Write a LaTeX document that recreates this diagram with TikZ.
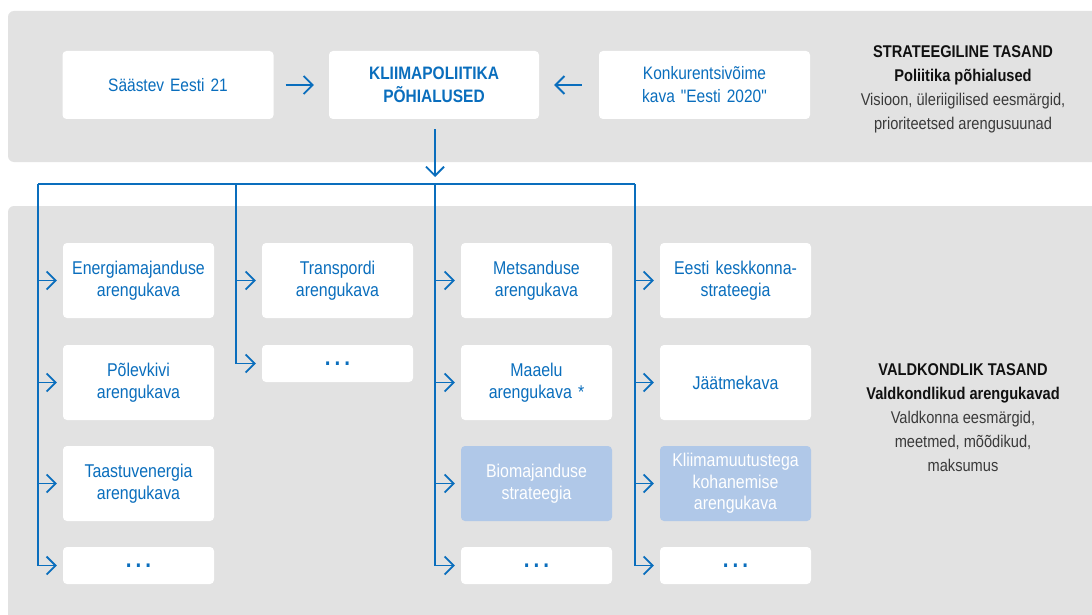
\documentclass[tikz,border=0pt]{standalone}
\usepackage{fontspec}
\setmainfont[FakeStretch=0.86, Ligatures=TeXOff]{Liberation Sans}
\usetikzlibrary{arrows.meta,calc}
\definecolor{bl}{HTML}{0A6EBD}
\definecolor{lb}{HTML}{B0C8E8}
\definecolor{pg}{HTML}{E2E2E2}
\definecolor{dk}{HTML}{111111}
\definecolor{dg}{HTML}{3A3A3A}
\begin{document}
\begin{tikzpicture}[x=1pt,y=-1pt,
  panel/.style={fill=pg, rounded corners=6pt},
  box/.style={rectangle, rounded corners=4pt, fill=white, minimum width=151pt, minimum height=75pt,
    inner sep=0pt, align=center, text width=149pt, text=bl, font=\fontsize{18.5}{21.5}\selectfont},
  topbox/.style={box, minimum width=211pt, minimum height=68pt, text width=200pt, font=\fontsize{18}{23}\selectfont},
  lbox/.style={box, fill=lb, text=white},
  dotbox/.style={box, minimum height=37pt, font=\fontsize{24}{24}\selectfont\bfseries},
  rt/.style={align=center, text=dk, font=\fontsize{17}{24}\selectfont},
  link/.style={draw=bl, line width=1.8pt},
  arr/.style={link, -{Straight Barb[length=9pt,width=18pt,line width=1.8pt]}}
]
\clip (0,0) rectangle (1092,615);
\useasboundingbox (0,0) rectangle (1092,615);
\fill[white] (0,0) rectangle (1092,615);
% panels
\fill[panel] (8,11) rectangle (1110,162);
\fill[panel] (8,206) rectangle (1110,640);

% top level
\node[topbox] (s21) at (168,85) {Säästev Eesti 21};
\node[topbox, minimum width=210pt] (kp) at (434,85) {\bfseries KLIIMAPOLIITIKA\\ \bfseries PÕHIALUSED};
\node[topbox] (kk) at (704.5,85) {Konkurentsivõime\\ kava "Eesti 2020"};
\node[rt] (st) at (963,89.5) {\bfseries STRATEEGILINE TASAND\\ \bfseries Poliitika põhialused\\ \color{dg}Visioon, üleriigilised eesmärgid,\\ \color{dg}prioriteetsed arengusuunad};

\draw[arr] ([xshift=12pt]s21.east) -- ([xshift=-15pt]kp.west);
\draw[arr] ([xshift=-17pt]kk.west) -- ([xshift=15pt]kp.east);

% branch coordinates
\coordinate (c1) at (38,184);
\coordinate (c2) at (236,184);
\coordinate (c3) at (435,184);
\coordinate (c4) at (635,184);
\draw[arr] (c3 |- kp.south) ++(0,10) -- ([yshift=7pt]c3);
\draw[link] (c1) -- (c4);

% column 1
\node[box] (a1) at (138.5,280.5) {Energiamajanduse\\ arengukava};
\node[box] (a2) at (138.5,382.5) {Põlevkivi\\ arengukava};
\node[box] (a3) at (138.5,483.5) {Taastuvenergia\\ arengukava};
\node[dotbox] (a4) at (138.5,565.5) {.\kern4pt.\kern4pt.};
% column 2
\node[box] (b1) at (337.5,280.5) {Transpordi\\ arengukava};
\node[dotbox] (b2) at (337.5,363.5) {.\kern4pt.\kern4pt.};
% column 3
\node[box] (m1) at (536.5,280.5) {Metsanduse\\ arengukava};
\node[box] (m2) at (536.5,382.5) {Maaelu\\ arengukava *};
\node[lbox] (m3) at (536.5,483.5) {Biomajanduse\\ strateegia};
\node[dotbox] (m4) at (536.5,565.5) {.\kern4pt.\kern4pt.};
% column 4
\node[box] (k1) at (735.5,280.5) {Eesti keskkonna-\\ strateegia};
\node[box] (k2) at (735.5,382.5) {Jäätmekava};
\node[lbox] (k3) at (735.5,483.5) {Kliimamuutustega\\ kohanemise\\ arengukava};
\node[dotbox] (k4) at (735.5,565.5) {.\kern4pt.\kern4pt.};

\node[rt] (vt) at (963,417.5) {\bfseries VALDKONDLIK TASAND\\ \bfseries Valdkondlikud arengukavad\\ \color{dg}Valdkonna eesmärgid,\\ \color{dg}meetmed, mõõdikud,\\ \color{dg}maksumus};

% connectors
\draw[arr] (c1) |- ([xshift=-6pt]a4.west);
\foreach \n in {a1,a2,a3} \draw[arr] (c1 |- \n.west) -- ([xshift=-6pt]\n.west);
\draw[arr] (c2) |- ([xshift=-6pt]b2.west);
\draw[arr] (c2 |- b1.west) -- ([xshift=-6pt]b1.west);
\draw[arr] (c3) |- ([xshift=-6pt]m4.west);
\foreach \n in {m1,m2,m3} \draw[arr] (c3 |- \n.west) -- ([xshift=-6pt]\n.west);
\draw[arr] (c4) |- ([xshift=-6pt]k4.west);
\foreach \n in {k1,k2,k3} \draw[arr] (c4 |- \n.west) -- ([xshift=-6pt]\n.west);
\end{tikzpicture}
\end{document}
